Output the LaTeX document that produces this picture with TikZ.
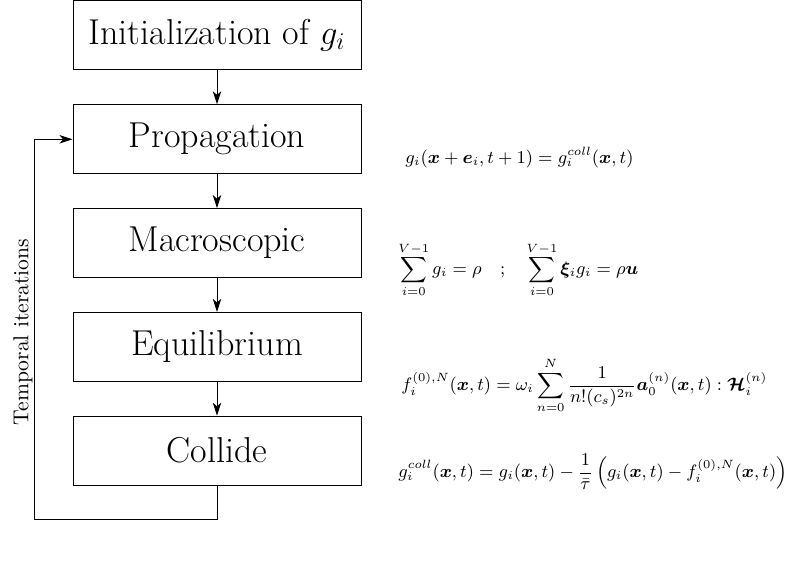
\documentclass[tikz,border=0pt]{standalone}
\usepackage{amsmath}
\usepackage{bm}
\usetikzlibrary{arrows.meta}
\begin{document}
\begin{tikzpicture}[x=0.5pt,y=-0.5pt,
  stepbox/.style={draw,line width=0.5pt,minimum width=144pt,minimum height=34.5pt,inner sep=0pt,font=\fontsize{18}{22}\selectfont},
  arr/.style={line width=0.5pt,-{Stealth[length=6.5pt,width=4.2pt,inset=1.8pt]}},
  conn/.style={line width=0.5pt},
  eqn/.style={anchor=west,inner sep=0pt,font=\fontsize{9.2}{11}\selectfont}]
\useasboundingbox (0,0) rectangle (789,582);
\node[stepbox] (init) at (217,35.5) {Initialization of $g_i$};
\node[stepbox] (prop) at (217,139.3) {Propagation};
\node[stepbox] (macro) at (217,243.1) {Macroscopic};
\node[stepbox] (equi) at (217,346.9) {Equilibrium};
\node[stepbox] (coll) at (217,450.7) {Collide};
\draw[arr] (init) -- (prop);
\draw[arr] (prop) -- (macro);
\draw[arr] (macro) -- (equi);
\draw[arr] (equi) -- (coll);
\coordinate (lb) at (34,520);
\draw[conn] (coll.south) |- (lb);
\draw[arr] (lb) |- (prop.west);
\node[rotate=90,font=\fontsize{10.8}{13}\selectfont] (temp) at (23,332) {Temporal iterations};
\node[eqn] (e1) at (405,157.5) {$g_i(\bm{x}+\bm{e}_i,t+1)=g_i^{coll}(\bm{x},t)$};
\node[eqn] (e2) at (398,270) {$\displaystyle\sum_{i=0}^{V-1} g_i=\rho\quad;\quad\sum_{i=0}^{V-1}\bm{\xi}_i g_i=\rho\bm{u}$};
\node[eqn] (e3) at (401,385.5) {$\displaystyle f_i^{(0),N}(\bm{x},t)=\omega_i\sum_{n=0}^{N}\frac{1}{n!(c_s)^{2n}}\bm{a}_0^{(n)}(\bm{x},t):\bm{\mathcal{H}}_i^{(n)}$};
\node[eqn] (e4) at (398,472) {$\displaystyle g_i^{coll}(\bm{x},t)=g_i(\bm{x},t)-\frac{1}{\bar{\tau}}\left(g_i(\bm{x},t)-f_i^{(0),N}(\bm{x},t)\right)$};
\end{tikzpicture}
\end{document}
